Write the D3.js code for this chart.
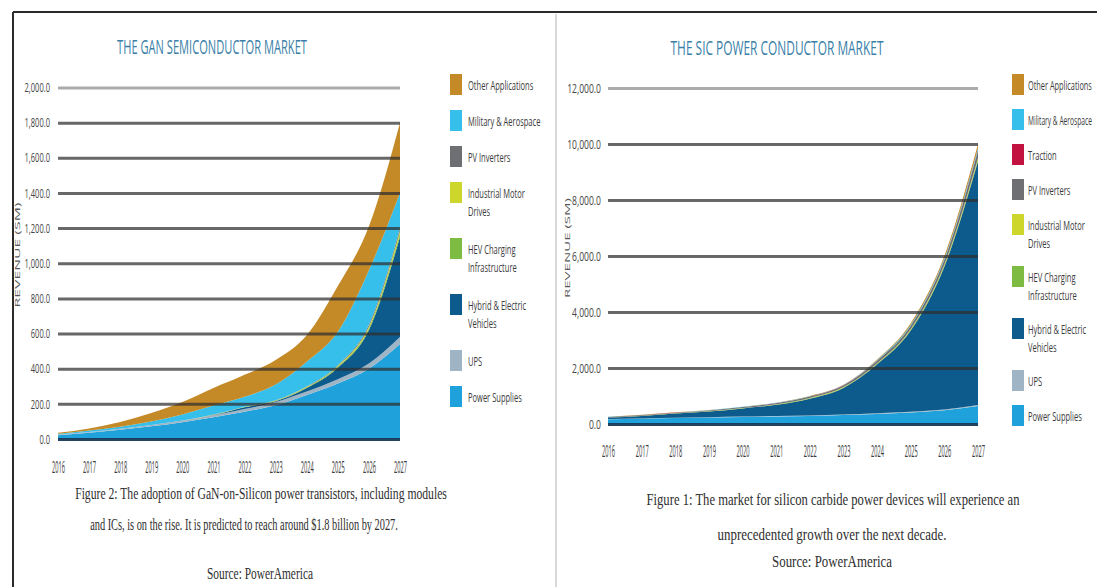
<!DOCTYPE html>
<html>
<head>
<meta charset="utf-8">
<script src="https://cdn.jsdelivr.net/npm/d3@7"></script>
<style>
  body { margin: 0; background: #fff; }
  svg { display: block; }
  text { font-family: "Open Sans", "Noto Sans", sans-serif; }
  .cap { font-family: "Liberation Serif", "DejaVu Serif", serif; fill: #2e2e2e; }
</style>
</head>
<body>
<script>
// ---- data ($M) ----
const years = [2016, 2017, 2018, 2019, 2020, 2021, 2022, 2023, 2024, 2025, 2026, 2027];

// GaN semiconductor market, stacked bottom -> top
const ganPowerSupplies = [22, 36, 52, 72, 96, 124, 155, 192, 250, 316, 400, 540];
const ganUps           = [3, 4, 6, 8, 9, 11, 15, 18, 20, 24, 30, 40];
const ganHybridEv      = [0, 0, 0, 0, 0, 1, 10, 5, 20, 65, 190, 570];
const ganHevCharging   = [0, 0, 0, 0, 0, 1, 2, 2, 4, 6, 10, 18];
const ganIndustrial    = [0, 0, 0, 0, 0, 1, 1, 2, 3, 5, 10, 17];
const ganPvInverters   = [0, 0, 0, 0, 0, 1, 1, 1, 3, 4, 10, 15];
const ganMilitary      = [5, 8, 12, 20, 35, 51, 56, 90, 140, 190, 310, 200];
const ganOther         = [5, 12, 27, 48, 70, 100, 125, 140, 150, 260, 250, 400];

// SiC power conductor market, stacked bottom -> top
const sicPowerSupplies = [170, 190, 210, 230, 250, 270, 290, 320, 360, 410, 490, 640];
const sicUps           = [10, 10, 12, 12, 14, 15, 16, 18, 20, 25, 30, 40];
const sicHybridEv      = [50, 90, 150, 200, 290, 400, 600, 950, 1750, 2900, 5100, 8700];
const sicHevCharging   = [2, 3, 4, 5, 6, 8, 10, 14, 20, 30, 40, 60];
const sicIndustrial    = [3, 4, 5, 6, 8, 10, 12, 15, 20, 30, 40, 60];
const sicPvInverters   = [15, 20, 25, 30, 35, 40, 50, 60, 80, 110, 160, 250];
const sicTraction      = [1, 1, 2, 2, 3, 3, 4, 5, 6, 8, 10, 20];
const sicMilitary      = [5, 6, 7, 8, 9, 10, 12, 14, 20, 30, 50, 80];
const sicOther         = [4, 6, 5, 7, 5, 4, 6, 4, 24, 57, 80, 150];

const ganTicks = [0, 200, 400, 600, 800, 1000, 1200, 1400, 1600, 1800, 2000];
const sicTicks = [0, 2000, 4000, 6000, 8000, 10000, 12000];

const seriesColors = {
  "Other Applications": "#c48a28",
  "Military & Aerospace": "#36bfeb",
  "Traction": "#c2123f",
  "PV Inverters": "#6e6f72",
  "Industrial Motor Drives": "#cdd62a",
  "HEV Charging Infrastructure": "#7dbb42",
  "Hybrid & Electric Vehicles": "#0d5b8d",
  "UPS": "#9fb4c5",
  "Power Supplies": "#1fa2db"
};
const legendLines = {
  "Industrial Motor Drives": ["Industrial Motor", "Drives"],
  "HEV Charging Infrastructure": ["HEV Charging", "Infrastructure"],
  "Hybrid & Electric Vehicles": ["Hybrid & Electric", "Vehicles"]
};

const ganSeries = {
  "Power Supplies": ganPowerSupplies,
  "UPS": ganUps,
  "Hybrid & Electric Vehicles": ganHybridEv,
  "HEV Charging Infrastructure": ganHevCharging,
  "Industrial Motor Drives": ganIndustrial,
  "PV Inverters": ganPvInverters,
  "Military & Aerospace": ganMilitary,
  "Other Applications": ganOther
};
const sicSeries = {
  "Power Supplies": sicPowerSupplies,
  "UPS": sicUps,
  "Hybrid & Electric Vehicles": sicHybridEv,
  "HEV Charging Infrastructure": sicHevCharging,
  "Industrial Motor Drives": sicIndustrial,
  "PV Inverters": sicPvInverters,
  "Traction": sicTraction,
  "Military & Aerospace": sicMilitary,
  "Other Applications": sicOther
};

// ---- page ----
var svg = d3.select("body").append("svg")
    .attr("width", 1097)
    .attr("height", 587);

svg.append("rect").attr("width", 1097).attr("height", 587).attr("fill", "#fff");

// frame
svg.append("line").attr("x1", 13).attr("x2", 1097).attr("y1", 12).attr("y2", 12)
    .attr("stroke", "#2a2a2a").attr("stroke-width", 2);
svg.append("line").attr("x1", 13).attr("x2", 13).attr("y1", 12).attr("y2", 587)
    .attr("stroke", "#2a2a2a").attr("stroke-width", 2);
svg.append("line").attr("x1", 556).attr("x2", 556).attr("y1", 14).attr("y2", 587)
    .attr("stroke", "#d9d9d9").attr("stroke-width", 2);

// the source uses very condensed type: scale texts horizontally around their x.
// widthFn gets the natural width and returns the wanted one
function squeeze(sel, widthFn) {
  sel.each(function() {
    var t = d3.select(this);
    var len = this.getComputedTextLength();
    var r = widthFn(len) / len;
    var x0 = +t.attr("x") || 0;
    t.attr("x", 0).attr("transform", "translate(" + x0 + ",0) scale(" + r + ",1)");
  });
}
function ratio(r, maxW) {
  return function(len) { return maxW ? Math.min(len * r, maxW) : len * r; };
}

function drawPanel(cfg) {
  var keys = Object.keys(cfg.series);
  var table = years.map(function(yr, i) {
    var row = { year: yr };
    keys.forEach(function(k) { row[k] = cfg.series[k][i]; });
    return row;
  });

  var x = d3.scalePoint().domain(years).range([cfg.x0, cfg.x1]);
  var y = d3.scaleLinear().domain([0, d3.max(cfg.ticks)]).range([cfg.yBottom, cfg.yTop]);

  var stacked = d3.stack().keys(keys)(table);
  var area = d3.area()
      .curve(d3.curveMonotoneX)
      .x(function(d) { return x(d.data.year); })
      .y0(function(d) { return y(d[0]); })
      .y1(function(d) { return y(d[1]); });

  svg.append("g").selectAll("path")
      .data(stacked)
    .enter().append("path")
      .attr("d", area)
      .attr("fill", function(d) { return seriesColors[d.key]; });

  // gridlines sit on top of the areas
  var yAxis = svg.append("g")
      .attr("transform", "translate(" + cfg.x0 + ",0)")
      .call(d3.axisLeft(y).tickValues(cfg.ticks)
        .tickSize(-(cfg.x1 - cfg.x0)).tickPadding(cfg.tickPad)
        .tickFormat(d3.format(",.1f")));
  yAxis.select(".domain").remove();
  yAxis.selectAll(".tick line")
      .attr("stroke", function(d, i) {
        if (d === 0) return "#163a58";
        return i === cfg.ticks.length - 1 ? "#8a8a8a" : "#2e2e2e";
      })
      .attr("stroke-opacity", function(d) { return d === 0 ? 0.95 : 0.72; })
      .attr("stroke-width", 3);
  yAxis.selectAll(".tick text")
      .attr("fill", "#444")
      .attr("font-size", 13)
      .call(squeeze, ratio(cfg.tickRatio));

  var xAxis = svg.append("g")
      .attr("transform", "translate(0," + cfg.yBottom + ")")
      .call(d3.axisBottom(x).tickSize(0).tickPadding(cfg.xPad));
  xAxis.select(".domain").remove();
  xAxis.selectAll(".tick text")
      .attr("fill", "#3a3a3a")
      .attr("font-size", 16)
      .call(squeeze, function() { return 13; });

  // axis title
  svg.append("text")
      .attr("transform", "translate(" + cfg.axisTitleX + "," + cfg.axisTitleY + ") rotate(-90)")
      .attr("text-anchor", "middle")
      .attr("fill", "#555")
      .attr("font-size", 8)
      .attr("textLength", cfg.axisTitleLen)
      .attr("lengthAdjust", "spacingAndGlyphs")
      .text("REVENUE (SM)");

  // chart title
  svg.append("g").attr("transform", "translate(0," + cfg.titleY + ")")
    .append("text")
      .attr("x", cfg.titleX)
      .attr("text-anchor", "middle")
      .attr("fill", "#3b7fa8")
      .attr("font-size", 20)
      .text(cfg.title)
      .call(squeeze, function() { return cfg.titleLen; });

  // legend, top to bottom = stack top to bottom
  var ly = cfg.legendTop;
  keys.slice().reverse().forEach(function(k) {
    var lines = legendLines[k] || [k];
    svg.append("rect")
        .attr("x", cfg.swatchX).attr("y", ly - 11)
        .attr("width", 12).attr("height", 21)
        .attr("fill", seriesColors[k]);
    lines.forEach(function(t, j) {
      svg.append("g").attr("transform", "translate(0," + (ly + j * 18) + ")")
        .append("text")
          .attr("x", cfg.legendTextX)
          .attr("dy", "0.35em")
          .attr("fill", "#3a3a3a")
          .attr("font-size", 13)
          .text(t)
          .call(squeeze, ratio(0.58, cfg.legendMaxW));
    });
    ly += lines.length > 1 ? cfg.stepDouble : cfg.stepSingle;
  });

  // caption
  cfg.caption.forEach(function(c) {
    svg.append("g").attr("transform", "translate(0," + c.y + ")")
      .append("text")
        .attr("class", "cap")
        .attr("x", c.x)
        .attr("text-anchor", "middle")
        .attr("font-size", 17)
        .text(c.text)
        .call(squeeze, function() { return c.w; });
  });
}

drawPanel({
  series: ganSeries, ticks: ganTicks,
  x0: 58, x1: 400, yBottom: 439, yTop: 87.5,
  tickPad: 8, tickRatio: 0.58, xPad: 23,
  axisTitleX: 20, axisTitleY: 255, axisTitleLen: 105,
  title: "THE GAN SEMICONDUCTOR MARKET", titleX: 212, titleY: 54, titleLen: 190,
  swatchX: 450, legendTextX: 468, legendTop: 85, stepSingle: 36, stepDouble: 56, legendMaxW: 80,
  caption: [
    { text: "Figure 2: The adoption of GaN-on-Silicon power transistors, including modules", x: 261, y: 499, w: 372 },
    { text: "and ICs, is on the rise. It is predicted to reach around $1.8 billion by 2027.", x: 244, y: 530, w: 308 },
    { text: "Source: PowerAmerica", x: 260, y: 579, w: 106 }
  ]
});

drawPanel({
  series: sicSeries, ticks: sicTicks,
  x0: 608, x1: 978, yBottom: 424, yTop: 88,
  tickPad: 7, tickRatio: 0.66, xPad: 22,
  axisTitleX: 570, axisTitleY: 248, axisTitleLen: 100,
  title: "THE SIC POWER CONDUCTOR MARKET", titleX: 777, titleY: 55, titleLen: 213,
  swatchX: 1012, legendTextX: 1028, legendTop: 85, stepSingle: 35, stepDouble: 52, legendMaxW: 64,
  caption: [
    { text: "Figure 1: The market for silicon carbide power devices will experience an", x: 833, y: 505, w: 373 },
    { text: "unprecedented growth over the next decade.", x: 832, y: 540, w: 229 },
    { text: "Source: PowerAmerica", x: 832, y: 567, w: 120 }
  ]
});
</script>
</body>
</html>
